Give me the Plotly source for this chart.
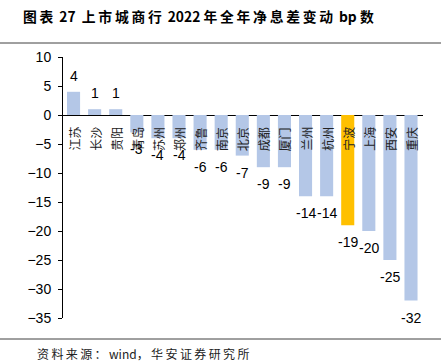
import plotly.graph_objects as go

categories = ["江苏", "长沙", "贵阳", "青岛", "苏州", "郑州", "齐鲁", "南京", "北京",
              "成都", "厦门", "兰州", "杭州", "宁波", "上海", "西安", "重庆"]
values = [4, 1, 1, -3, -4, -4, -6, -6, -7, -9, -9, -14, -14, -19, -20, -25, -32]
highlight = "宁波"
title_text = "图表 27  上市城商行 2022 年全年净息差变动 bp 数"
source_text = "资料来源：wind，华安证券研究所"

BLUE = "#B4C7E7"
GOLD = "#FFC000"
colors = [GOLD if c == highlight else BLUE for c in categories]

W, H = 441, 362
L, R, T, B = 63, 18, 57, 44
pw, ph = W - L - R, H - T - B

def px_x(p):
    return (p - L) / pw

def px_y(p):
    return (H - B - p) / ph

def spaced(s):
    # add a thin space after each CJK character to mimic the wide letter spacing
    out = ""
    for ch in s:
        out += ch
        if ord(ch) > 0x2E80:
            out += "\u2009"
    return out

LAT = "Liberation Sans, Arial, Noto Sans CJK SC, sans-serif"
CJK = "Noto Sans CJK SC, sans-serif"

fig = go.Figure()
fig.add_trace(go.Bar(
    x=categories, y=values,
    marker=dict(color=colors, line=dict(width=0)),
    hoverinfo="skip",
))

annotations = []
for c, v in zip(categories, values):
    annotations.append(dict(
        x=c, y=0, xref="x", yref="y",
        text=c, textangle=-90,
        showarrow=False, yanchor="top", xanchor="center", yshift=-10,
        font=dict(family=CJK, size=12, color="#222222"),
    ))
    annotations.append(dict(
        x=c, y=v, xref="x", yref="y",
        text=str(v), showarrow=False, xanchor="center",
        yanchor="bottom" if v >= 0 else "top",
        yshift=6 if v >= 0 else -7,
        font=dict(family=LAT, size=14, color="#000000"),
    ))
annotations.append(dict(
    x=px_x(21), y=px_y(16), xref="paper", yref="paper",
    text="<b>" + spaced(title_text) + "</b>", showarrow=False,
    xanchor="left", yanchor="middle",
    font=dict(family=CJK, size=13.8, color="#000000"),
))
annotations.append(dict(
    x=px_x(35), y=px_y(353), xref="paper", yref="paper",
    text=spaced(source_text), showarrow=False,
    xanchor="left", yanchor="middle",
    font=dict(family=CJK, size=12, color="#222222"),
))

shapes = [
    dict(type="line", xref="paper", yref="paper",
         x0=px_x(0), x1=px_x(W), y0=px_y(43), y1=px_y(43),
         line=dict(color="#404040", width=1)),
    dict(type="line", xref="paper", yref="paper",
         x0=px_x(0), x1=px_x(W), y0=px_y(339), y1=px_y(339),
         line=dict(color="#404040", width=1)),
]

fig.update_layout(
    width=W, height=H,
    margin=dict(l=L, r=R, t=T, b=B),
    plot_bgcolor="white", paper_bgcolor="white",
    showlegend=False,
    bargap=0.38,
    annotations=annotations,
    shapes=shapes,
    xaxis=dict(showticklabels=False, showgrid=False, showline=False,
               zeroline=False, ticks=""),
    yaxis=dict(range=[-35, 10], dtick=5, tick0=0, showgrid=False,
               zeroline=True, zerolinecolor="#000000", zerolinewidth=1,
               showline=True, linecolor="#000000", linewidth=1,
               ticks="outside", ticklen=4, tickcolor="#000000",
               ticklabelstandoff=4,
               tickfont=dict(family=LAT, size=14, color="#000000")),
)

fig.write_html("out.html",
               config={"displayModeBar": False, "staticPlot": True},
               post_script="document.body.style.margin='0';document.body.style.overflow='hidden';")
